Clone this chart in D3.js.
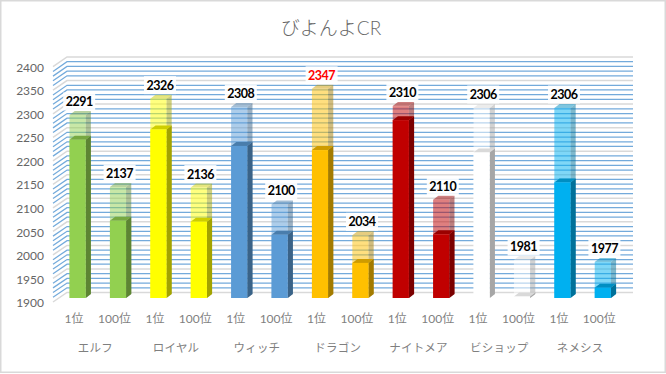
<!DOCTYPE html>
<html><head><meta charset="utf-8">
<style>html,body{margin:0;padding:0;background:#fff}svg{display:block}
text{font-family:Lato,"Noto Sans CJK JP",sans-serif}</style>
<script src="https://cdn.jsdelivr.net/npm/d3@7"></script></head><body>
<svg id="c" width="666" height="374"></svg>
<script>
const title = "びよんよCR";
const categories = ["エルフ","ロイヤル","ウィッチ","ドラゴン","ナイトメア","ビショップ","ネメシス"];
const ranks = ["1位","100位"];
const colors = ["#92d050","#ffff00","#5b9bd5","#ffc000","#c00000","#ffffff","#00b0f0"];
const topValues = [2291,2137,2326,2136,2308,2100,2347,2034,2310,2110,2306,1981,2306,1977];
const solidValues = [2238,2065,2260,2063,2225,2035,2216,1975,2280,2036,2211,1903,2147,1922];
const yTicks = [1900,1950,2000,2050,2100,2150,2200,2250,2300,2350,2400];
const minorTicks = d3.range(1900,2401,10);
const highlight = 2347;

const svg = d3.select("#c");
svg.append("rect").attr("x",0.75).attr("y",0.75).attr("width",664.5).attr("height",371.5)
  .attr("fill","#fff").attr("stroke","#d9d9d9").attr("stroke-width",1.5);
svg.append("text").attr("x",331).attr("y",35).attr("text-anchor","middle")
  .attr("font-size",19).attr("font-weight",300).attr("fill","#666666").text(title);

const keys = topValues.map((_,i)=>i);
const x = d3.scaleBand().domain(keys).range([57.4,623]).paddingInner(0.6).paddingOuter(0.3);
const yBar = d3.scaleLinear().domain([1900,2400]).range([298,64]);
const yWall = d3.scaleLinear().domain([1900,2400]).range([302,66.7]);
const yBack = d3.scaleLinear().domain([1900,2400]).range([292.5,57]);
const wallL=53, backL=67, backR=633;
const dx=5.2, dy=4;

const grid = svg.append("g");
const isMajor = v => v%50===0;
const lines = minorTicks.slice().sort((a,b)=>isMajor(a)-isMajor(b));
grid.selectAll("path.g").data(lines).join("path").attr("class","g")
  .attr("d",v=>`M${wallL},${yWall(v)}L${backL},${yBack(v)}L${backR},${yBack(v)}`)
  .attr("fill","none")
  .attr("stroke",v=>isMajor(v)?"#d9d9d9":"#5b9bd5")
  .attr("stroke-opacity",v=>isMajor(v)?1:0.85)
  .attr("stroke-width",v=>isMajor(v)?1.5:1.25);

const axisY = d3.axisLeft(yWall).tickValues(yTicks).tickSize(0).tickPadding(0).tickFormat(d3.format("d"));
const ay = svg.append("g").attr("transform","translate(44,0.8)").call(axisY);
ay.select(".domain").remove();
ay.selectAll("text").attr("font-size",12).attr("fill","#666666").attr("dy","0.32em")
  .style("font-family",'Lato,"Noto Sans CJK JP",sans-serif');

const axisX = d3.axisBottom(x).tickSize(0).tickPadding(0).tickFormat(i=>ranks[i%2]);
const ax = svg.append("g").attr("transform","translate(-3.5,314)").call(axisX);
ax.select(".domain").remove();
ax.selectAll("text").attr("font-size",12).attr("fill","#7f7f7f").attr("dy","0.71em")
  .style("font-family",'Lato,"Noto Sans CJK JP",sans-serif');

svg.append("g").selectAll("text").data(categories).join("text")
  .attr("x",(c,i)=>(x(i*2)+x(i*2+1)+x.bandwidth())/2-2.5)
  .attr("y",351.5).attr("text-anchor","middle").attr("font-size",11.5).attr("letter-spacing",0.2)
  .attr("fill","#7f7f7f").text(c=>c);

function box3d(g,i,v,opacity){
  const col = colors[Math.floor(i/2)];
  const isWhite = col==="#ffffff";
  const L=x(i),R=L+x.bandwidth(),T=yBar(v),B=yBar(1900);
  const side = isWhite?"#a6a6a6":d3.color(col).darker(1.25);
  const top = isWhite?"#d9d9d9":d3.color(col).darker(0.6);
  g.append("path").attr("d",`M${R},${T}L${R+dx},${T-dy}L${R+dx},${B-dy}L${R},${B}Z`).attr("fill",side).attr("opacity",opacity);
  g.append("path").attr("d",`M${L},${T}L${L+dx},${T-dy}L${R+dx},${T-dy}L${R},${T}Z`).attr("fill",top).attr("opacity",opacity);
  g.append("rect").attr("x",L).attr("y",T).attr("width",R-L).attr("height",B-T).attr("fill",col).attr("opacity",opacity);
}
const bars = svg.append("g");
keys.forEach(i=>{
  const g = bars.append("g");
  box3d(g,i,topValues[i],0.5);
  box3d(g,i,solidValues[i],1);
});

const lab = svg.append("g").selectAll("g").data(keys).join("g")
  .attr("transform",i=>`translate(${x(i)+x.bandwidth()/2+dx/2-1},${yBar(topValues[i])-13.5})`);
lab.append("rect").attr("x",-16).attr("y",-9).attr("width",32).attr("height",18).attr("fill","#fff").attr("opacity",0.9);
lab.append("text").attr("text-anchor","middle").attr("dy","0.36em").attr("font-size",12.5).attr("font-weight",700)
  .attr("letter-spacing",-0.5)
  .attr("fill",i=>topValues[i]===highlight?"#ff0000":"#000").text(i=>topValues[i]);
</script></body></html>
